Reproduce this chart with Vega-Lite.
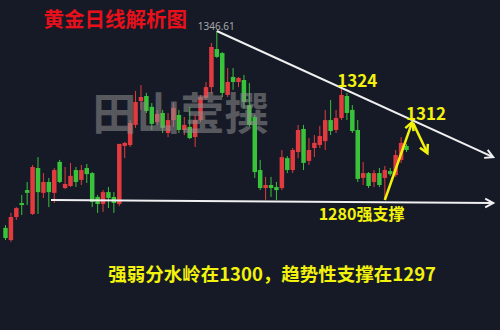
{
  "$schema": "https://vega.github.io/schema/vega-lite/v6.json",
  "width": 500,
  "height": 330,
  "padding": 0,
  "autosize": {"type": "fit", "contains": "padding"},
  "background": "#161a27",
  "config": {"view": {"stroke": null}, "axis": {"disable": true}},
  "datasets": {
    "candles": [
      {"i": 1, "o": 1269.0, "h": 1270.1, "l": 1264.2, "c": 1265.0},
      {"i": 2, "o": 1264.2, "h": 1274.9, "l": 1263.5, "c": 1273.3},
      {"i": 3, "o": 1273.3, "h": 1277.2, "l": 1272.1, "c": 1276.8},
      {"i": 4, "o": 1278.8, "h": 1282.0, "l": 1274.1, "c": 1278.0},
      {"i": 5, "o": 1283.9, "h": 1287.1, "l": 1278.0, "c": 1282.8},
      {"i": 6, "o": 1274.5, "h": 1293.8, "l": 1274.1, "c": 1293.0},
      {"i": 7, "o": 1292.6, "h": 1296.9, "l": 1274.5, "c": 1283.1},
      {"i": 8, "o": 1282.8, "h": 1290.6, "l": 1280.8, "c": 1287.1},
      {"i": 9, "o": 1287.1, "h": 1288.7, "l": 1277.2, "c": 1283.1},
      {"i": 10, "o": 1282.8, "h": 1292.6, "l": 1278.8, "c": 1291.8},
      {"i": 11, "o": 1295.0, "h": 1295.8, "l": 1286.7, "c": 1287.1},
      {"i": 12, "o": 1284.7, "h": 1293.0, "l": 1284.3, "c": 1286.3},
      {"i": 13, "o": 1285.5, "h": 1294.6, "l": 1285.1, "c": 1289.5},
      {"i": 14, "o": 1291.8, "h": 1293.0, "l": 1285.1, "c": 1287.1},
      {"i": 15, "o": 1287.9, "h": 1293.8, "l": 1285.9, "c": 1291.8},
      {"i": 16, "o": 1292.6, "h": 1294.2, "l": 1286.7, "c": 1290.2},
      {"i": 17, "o": 1290.6, "h": 1291.0, "l": 1277.2, "c": 1279.2},
      {"i": 18, "o": 1281.2, "h": 1282.0, "l": 1274.9, "c": 1278.4},
      {"i": 19, "o": 1278.4, "h": 1283.9, "l": 1275.3, "c": 1283.1},
      {"i": 20, "o": 1283.1, "h": 1285.1, "l": 1276.8, "c": 1280.8},
      {"i": 21, "o": 1281.2, "h": 1283.1, "l": 1274.9, "c": 1278.8},
      {"i": 22, "o": 1278.4, "h": 1302.1, "l": 1277.6, "c": 1302.1},
      {"i": 23, "o": 1301.3, "h": 1302.9, "l": 1296.5, "c": 1302.5},
      {"i": 24, "o": 1301.7, "h": 1311.5, "l": 1300.9, "c": 1310.3},
      {"i": 25, "o": 1309.6, "h": 1323.0, "l": 1308.4, "c": 1318.6},
      {"i": 26, "o": 1319.0, "h": 1325.3, "l": 1315.5, "c": 1320.6},
      {"i": 27, "o": 1321.0, "h": 1322.2, "l": 1314.3, "c": 1315.1},
      {"i": 28, "o": 1316.7, "h": 1318.2, "l": 1307.6, "c": 1310.0},
      {"i": 29, "o": 1310.7, "h": 1315.5, "l": 1309.6, "c": 1313.9},
      {"i": 30, "o": 1314.3, "h": 1315.5, "l": 1306.4, "c": 1308.4},
      {"i": 31, "o": 1306.4, "h": 1314.3, "l": 1304.8, "c": 1311.5},
      {"i": 32, "o": 1311.5, "h": 1318.2, "l": 1308.8, "c": 1316.3},
      {"i": 33, "o": 1313.5, "h": 1315.5, "l": 1306.4, "c": 1307.6},
      {"i": 34, "o": 1307.6, "h": 1312.7, "l": 1305.6, "c": 1309.6},
      {"i": 35, "o": 1308.8, "h": 1316.7, "l": 1304.0, "c": 1304.4},
      {"i": 36, "o": 1304.8, "h": 1313.5, "l": 1300.9, "c": 1311.5},
      {"i": 37, "o": 1311.5, "h": 1321.4, "l": 1310.7, "c": 1320.6},
      {"i": 38, "o": 1320.2, "h": 1326.5, "l": 1319.4, "c": 1324.5},
      {"i": 39, "o": 1324.5, "h": 1341.9, "l": 1322.2, "c": 1340.3},
      {"i": 40, "o": 1339.5, "h": 1346.61, "l": 1336.0, "c": 1336.4},
      {"i": 41, "o": 1337.9, "h": 1338.3, "l": 1320.6, "c": 1322.2},
      {"i": 42, "o": 1321.4, "h": 1332.0, "l": 1320.6, "c": 1326.5},
      {"i": 43, "o": 1328.5, "h": 1332.0, "l": 1323.4, "c": 1326.5},
      {"i": 44, "o": 1326.5, "h": 1328.5, "l": 1324.5, "c": 1328.1},
      {"i": 45, "o": 1327.3, "h": 1329.3, "l": 1316.3, "c": 1318.6},
      {"i": 46, "o": 1317.4, "h": 1326.1, "l": 1308.8, "c": 1309.6},
      {"i": 47, "o": 1312.7, "h": 1313.5, "l": 1288.7, "c": 1291.0},
      {"i": 48, "o": 1291.8, "h": 1295.8, "l": 1283.9, "c": 1284.7},
      {"i": 49, "o": 1284.7, "h": 1289.1, "l": 1280.0, "c": 1285.9},
      {"i": 50, "o": 1285.9, "h": 1289.1, "l": 1281.2, "c": 1284.7},
      {"i": 51, "o": 1285.1, "h": 1287.1, "l": 1280.0, "c": 1283.9},
      {"i": 52, "o": 1284.7, "h": 1299.7, "l": 1283.9, "c": 1296.9},
      {"i": 53, "o": 1296.5, "h": 1297.3, "l": 1290.6, "c": 1291.8},
      {"i": 54, "o": 1291.8, "h": 1300.5, "l": 1290.6, "c": 1299.7},
      {"i": 55, "o": 1298.9, "h": 1309.6, "l": 1296.5, "c": 1307.6},
      {"i": 56, "o": 1308.0, "h": 1309.6, "l": 1291.8, "c": 1294.6},
      {"i": 57, "o": 1295.4, "h": 1304.4, "l": 1293.8, "c": 1299.7},
      {"i": 58, "o": 1300.5, "h": 1305.6, "l": 1296.9, "c": 1302.5},
      {"i": 59, "o": 1301.7, "h": 1309.2, "l": 1300.5, "c": 1305.2},
      {"i": 60, "o": 1303.2, "h": 1315.5, "l": 1299.7, "c": 1311.5},
      {"i": 61, "o": 1311.5, "h": 1319.4, "l": 1305.6, "c": 1307.2},
      {"i": 62, "o": 1307.6, "h": 1315.5, "l": 1306.4, "c": 1312.3},
      {"i": 63, "o": 1312.3, "h": 1324.0, "l": 1311.5, "c": 1321.4},
      {"i": 64, "o": 1321.0, "h": 1322.2, "l": 1311.5, "c": 1314.3},
      {"i": 65, "o": 1315.5, "h": 1317.4, "l": 1306.4, "c": 1307.2},
      {"i": 66, "o": 1307.6, "h": 1311.5, "l": 1287.1, "c": 1288.3},
      {"i": 67, "o": 1288.7, "h": 1295.0, "l": 1285.9, "c": 1290.6},
      {"i": 68, "o": 1290.6, "h": 1291.0, "l": 1284.7, "c": 1285.5},
      {"i": 69, "o": 1287.1, "h": 1291.8, "l": 1285.1, "c": 1290.6},
      {"i": 70, "o": 1290.6, "h": 1292.6, "l": 1285.1, "c": 1285.9},
      {"i": 71, "o": 1288.7, "h": 1293.4, "l": 1280.0, "c": 1291.8},
      {"i": 72, "o": 1291.4, "h": 1292.6, "l": 1289.5, "c": 1290.2},
      {"i": 73, "o": 1289.8, "h": 1299.7, "l": 1289.1, "c": 1297.7},
      {"i": 74, "o": 1295.8, "h": 1304.8, "l": 1294.6, "c": 1302.5},
      {"i": 75, "o": 1301.3, "h": 1302.1, "l": 1298.9, "c": 1299.7}
    ]
  },
  "layer": [
    {
      "data": {"name": "candles"},
      "mark": {"type": "rule", "strokeWidth": 1},
      "encoding": {
        "x": {"field": "i", "type": "quantitative", "scale": {"domain": [0.91, 91.33], "nice": false, "zero": false}},
        "y": {"field": "l", "type": "quantitative", "scale": {"domain": [1228.75, 1358.83], "nice": false, "zero": false}},
        "y2": {"field": "h"},
        "color": {"condition": {"test": "datum.c > datum.o", "value": "#e23b3f"}, "value": "#38c33a"}
      }
    },
    {
      "data": {"name": "candles"},
      "mark": {"type": "bar", "size": 4.5},
      "encoding": {
        "x": {"field": "i", "type": "quantitative"},
        "y": {"field": "o", "type": "quantitative"},
        "y2": {"field": "c"},
        "color": {"condition": {"test": "datum.c > datum.o", "value": "#e23b3f"}, "value": "#38c33a"}
      }
    },
    {
      "data": {"values": [{"label": "田山莹撰", "i": 33.3, "p": 1312.7}]},
      "mark": {"type": "text", "font": "Noto Sans CJK SC", "fontSize": 44, "fontWeight": "bold", "color": "#8e8e8e", "opacity": 0.55, "align": "center", "baseline": "middle"},
      "encoding": {
        "x": {"field": "i", "type": "quantitative"},
        "y": {"field": "p", "type": "quantitative"},
        "text": {"field": "label"}
      }
    },
    {
      "data": {"values": [{"i": 40, "p": 1346.61}, {"i": 91.0, "p": 1296.9}]},
      "mark": {"type": "line", "color": "#f0f0f0", "strokeWidth": 2},
      "encoding": {
        "x": {"field": "i", "type": "quantitative"},
        "y": {"field": "p", "type": "quantitative"}
      }
    },
    {
      "data": {"values": [{"i": 9.4, "p": 1280.0}, {"i": 91.0, "p": 1278.8}]},
      "mark": {"type": "line", "color": "#f0f0f0", "strokeWidth": 2},
      "encoding": {
        "x": {"field": "i", "type": "quantitative"},
        "y": {"field": "p", "type": "quantitative"}
      }
    },
    {
      "data": {"values": [{"i": 91.0, "p": 1296.9}]},
      "mark": {"type": "point", "shape": "M-1,-0.55L0,0L-1,0.55", "filled": false, "size": 256, "angle": 24, "color": "#f0f0f0", "strokeWidth": 2, "opacity": 1},
      "encoding": {
        "x": {"field": "i", "type": "quantitative"},
        "y": {"field": "p", "type": "quantitative"}
      }
    },
    {
      "data": {"values": [{"i": 91.0, "p": 1278.8}]},
      "mark": {"type": "point", "shape": "M-1,-0.55L0,0L-1,0.55", "filled": false, "size": 256, "angle": 0.4, "color": "#f0f0f0", "strokeWidth": 2, "opacity": 1},
      "encoding": {
        "x": {"field": "i", "type": "quantitative"},
        "y": {"field": "p", "type": "quantitative"}
      }
    },
    {
      "data": {"values": [{"i": 71.0, "p": 1280.0}, {"i": 76.05, "p": 1310.7}]},
      "mark": {"type": "line", "color": "#f2f20c", "strokeWidth": 2.5},
      "encoding": {
        "x": {"field": "i", "type": "quantitative"},
        "y": {"field": "p", "type": "quantitative"}
      }
    },
    {
      "data": {"values": [{"i": 76.23, "p": 1310.3}, {"i": 78.85, "p": 1298.5}]},
      "mark": {"type": "line", "color": "#f2f20c", "strokeWidth": 2.5},
      "encoding": {
        "x": {"field": "i", "type": "quantitative"},
        "y": {"field": "p", "type": "quantitative"}
      }
    },
    {
      "data": {"values": [{"i": 76.05, "p": 1310.7}]},
      "mark": {"type": "point", "shape": "M-1,-0.55L0,0L-1,0.55", "filled": false, "size": 256, "angle": -70, "color": "#f2f20c", "strokeWidth": 2.5, "opacity": 1},
      "encoding": {
        "x": {"field": "i", "type": "quantitative"},
        "y": {"field": "p", "type": "quantitative"}
      }
    },
    {
      "data": {"values": [{"i": 78.85, "p": 1298.5}]},
      "mark": {"type": "point", "shape": "M-1,-0.55L0,0L-1,0.55", "filled": false, "size": 256, "angle": 64, "color": "#f2f20c", "strokeWidth": 2.5, "opacity": 1},
      "encoding": {
        "x": {"field": "i", "type": "quantitative"},
        "y": {"field": "p", "type": "quantitative"}
      }
    },
    {
      "data": {"values": [{"label": "1346.61", "i": 39.9, "p": 1348.0}]},
      "mark": {"type": "text", "font": "Noto Sans", "fontSize": 10, "color": "#a8a8a8", "align": "center", "baseline": "middle"},
      "encoding": {
        "x": {"field": "i", "type": "quantitative"},
        "y": {"field": "p", "type": "quantitative"},
        "text": {"field": "label"}
      }
    },
    {
      "data": {"values": [
        {"label": "1324", "i": 65.9, "p": 1326.5, "s": 17},
        {"label": "1312", "i": 78.6, "p": 1313.5, "s": 17},
        {"label": "1280强支撑", "i": 66.7, "p": 1273.9, "s": 16},
        {"label": "强弱分水岭在1300，趋势性支撑在1297", "i": 50.2, "p": 1250.4, "s": 18.5}
      ]},
      "mark": {"type": "text", "font": "Noto Sans CJK SC", "fontWeight": "bold", "color": "#f2f20c", "align": "center", "baseline": "middle"},
      "encoding": {
        "x": {"field": "i", "type": "quantitative"},
        "y": {"field": "p", "type": "quantitative"},
        "text": {"field": "label"},
        "size": {"field": "s", "type": "quantitative", "scale": null, "legend": null}
      }
    },
    {
      "data": {"values": [{"label": "黄金日线解析图", "i": 21.25, "p": 1350.5}]},
      "mark": {"type": "text", "font": "Noto Sans CJK SC", "fontSize": 20.5, "fontWeight": "bold", "color": "#e8101a", "align": "center", "baseline": "middle"},
      "encoding": {
        "x": {"field": "i", "type": "quantitative"},
        "y": {"field": "p", "type": "quantitative"},
        "text": {"field": "label"}
      }
    }
  ]
}
